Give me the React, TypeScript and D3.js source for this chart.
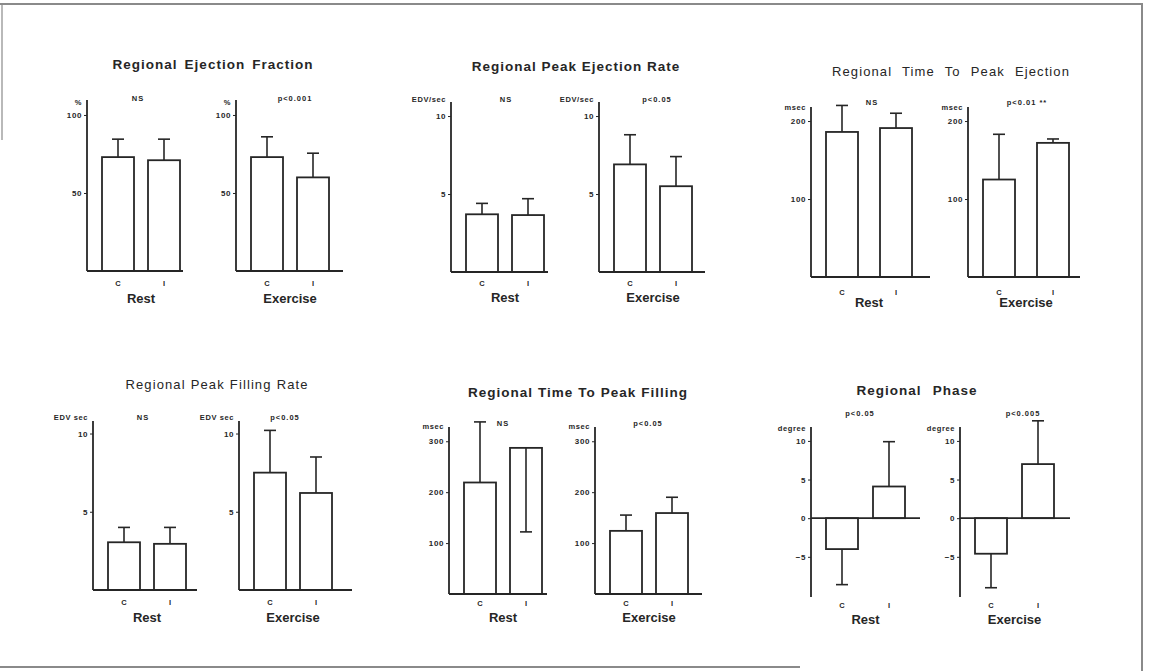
import { useEffect, useRef } from "react"
import * as d3 from "d3"

// ---- data ----
const panelTitles = [
  "Regional Ejection Fraction",
  "Regional Peak Ejection Rate",
  "Regional Time To Peak Ejection",
  "Regional Peak Filling Rate",
  "Regional Time To Peak Filling",
  "Regional Phase",
]
const conditions = ["Rest", "Exercise"]
const groups = ["C", "I"]
const unitLabels = ["%", "EDV/sec", "msec", "EDV sec", "msec", "degree"]
const pLabels = [
  ["NS", "p<0.001"],
  ["NS", "p<0.05"],
  ["NS", "p<0.01 **"],
  ["NS", "p<0.05"],
  ["NS", "p<0.05"],
  ["p<0.05", "p<0.005"],
]
const yTicks = [
  [50, 100],
  [5, 10],
  [100, 200],
  [5, 10],
  [100, 200, 300],
  [-5, 0, 5, 10],
]
const yDomains = [
  [0, 109.6],
  [0, 10.9],
  [0, 218],
  [0, 10.8],
  [0, 328],
  [-10.2, 11.8],
]
// [panel][condition][group]
const means = [
  [[73, 71], [73, 60]],
  [[3.7, 3.65], [6.9, 5.5]],
  [[186, 191], [125, 172]],
  [[3.05, 2.95], [7.5, 6.2]],
  [[219, 287], [124, 159]],
  [[-4.0, 4.1], [-4.6, 7.0]],
]
const sds = [
  [[11.5, 13.5], [13, 15.5]],
  [[0.7, 1.05], [1.9, 1.9]],
  [[34, 19], [58, 5]],
  [[0.95, 1.05], [2.7, 2.3]],
  [[119, 165], [31, 31]],
  [[4.6, 5.8], [4.4, 5.6]],
]
// 1 = error bar drawn up, -1 = drawn down
const errDirs = [
  [[1, 1], [1, 1]],
  [[1, 1], [1, 1]],
  [[1, 1], [1, 1]],
  [[1, 1], [1, 1]],
  [[1, -1], [1, 1]],
  [[-1, 1], [-1, 1]],
]

// ---- page layout (pixels) ----
const layout = [
  { tx: 213, ty: 69, tw: 201, bold: true, axisX: [87, 236], top: 100, bottom: 271, len: [96, 107], gap: 14, pX: [51, 59], pY: 100.5, uY: 105, catY: 285.5, condY: 302.5 },
  { tx: 576, ty: 71, tw: 208, bold: true, axisX: [451, 599], top: 102, bottom: 272, len: [97, 106], gap: 14, pX: [55, 58], pY: 101.5, uY: 101.5, catY: 285.5, condY: 301.5 },
  { tx: 951, ty: 76, tw: 238, bold: false, axisX: [811, 968], top: 107, bottom: 277, len: [119, 112], gap: 22, pX: [61, 59], pY: 105, uY: 109.5, catY: 294.5, condY: 307 },
  { tx: 217, ty: 389, tw: 183, bold: false, axisX: [93, 239], top: 421, bottom: 590, len: [104, 113], gap: 14, pX: [50, 46], pY: 419.5, uY: 419.5, catY: 604.5, condY: 621.5 },
  { tx: 578, ty: 397, tw: 220, bold: true, axisX: [449, 595], top: 427, bottom: 594, len: [98, 107], gap: 14, pX: [54, 53], pY: 425.5, uY: 428.5, catY: 605.5, condY: 621.5 },
  { tx: 917, ty: 395, tw: 121, bold: true, axisX: [811, 960], top: 427, bottom: 597, len: [109, 110], gap: 15, pX: [49, 63], pY: 415.5, uY: 430.5, catY: 607.5, condY: 623.5 },
]

const INK = "#262626"
const FONT = "'Liberation Sans', Arial, sans-serif"
const BAR_W = 32

export default function App() {
  const svgRef = useRef<SVGSVGElement>(null)

  useEffect(() => {
    if (!svgRef.current) return
    const svg = d3.select(svgRef.current)
    svg.selectAll("*").remove()

    svg.append("rect").attr("width", 1150).attr("height", 671).attr("fill", "#fff")

    // scanned page frame
    const frame = svg.append("g").attr("stroke", "#8a8a8a").attr("stroke-width", 2).attr("fill", "none")
    frame.append("line").attr("x1", 0).attr("x2", 1143).attr("y1", 4).attr("y2", 4)
    frame.append("line").attr("x1", 1142).attr("x2", 1142).attr("y1", 4).attr("y2", 671)
    frame.append("line").attr("x1", 2).attr("x2", 2).attr("y1", 4).attr("y2", 140).attr("stroke-opacity", 0.6)
    frame.append("line").attr("x1", 0).attr("x2", 800).attr("y1", 667).attr("y2", 667)

    panelTitles.forEach((title, p) => {
      const L = layout[p]
      const g = svg.append("g").attr("font-family", FONT).attr("fill", INK)

      // title: letters slightly spaced, the rest of the width goes into the word gaps
      const t = g
        .append("text")
        .attr("x", L.tx)
        .attr("y", L.ty)
        .attr("text-anchor", "middle")
        .attr("font-size", L.bold ? 13.5 : 13)
        .attr("font-weight", L.bold ? "bold" : "normal")
        .attr("letter-spacing", L.bold ? 1 : 1.1)
        .text(title)
      const natural = (t.node() as SVGTextElement).getComputedTextLength()
      const spaces = title.split(" ").length - 1
      if (spaces > 0 && natural < L.tw) t.attr("word-spacing", (L.tw - natural) / spaces)

      const y = d3.scaleLinear().domain(yDomains[p]).range([L.bottom, L.top])

      conditions.forEach((cond, c) => {
        const ax = L.axisX[c]
        const x = d3
          .scaleBand()
          .domain(groups)
          .range([ax + 15, ax + 15 + 2 * BAR_W + L.gap])
          .paddingInner(L.gap / (BAR_W + L.gap))

        const sub = g.append("g")

        // y axis ticks + labels
        const yAxis = sub
          .append("g")
          .attr("transform", `translate(${ax},0)`)
          .call(d3.axisLeft(y).tickValues(yTicks[p]).tickSize(3).tickSizeOuter(0).tickPadding(2))
        yAxis.select(".domain").remove()
        yAxis.selectAll("line").attr("stroke", INK).attr("stroke-width", 1)
        yAxis
          .selectAll("text")
          .attr("font-family", FONT)
          .attr("font-size", 8)
          .attr("font-weight", "bold")
          .attr("letter-spacing", 0.6)
          .attr("fill", INK)

        // axis lines
        sub
          .append("line")
          .attr("x1", ax)
          .attr("x2", ax)
          .attr("y1", L.top)
          .attr("y2", L.bottom)
          .attr("stroke", INK)
          .attr("stroke-width", 1.8)
        sub
          .append("line")
          .attr("x1", ax)
          .attr("x2", ax + L.len[c])
          .attr("y1", y(0))
          .attr("y2", y(0))
          .attr("stroke", INK)
          .attr("stroke-width", 1.8)

        // bars with SD whiskers
        groups.forEach((grp, i) => {
          const m = means[p][c][i]
          const bx = x(grp) as number
          const cx = bx + x.bandwidth() / 2
          const yEnd = y(m + errDirs[p][c][i] * sds[p][c][i])
          sub
            .append("line")
            .attr("x1", cx)
            .attr("x2", cx)
            .attr("y1", y(m))
            .attr("y2", yEnd)
            .attr("stroke", INK)
            .attr("stroke-width", 1.6)
          sub
            .append("line")
            .attr("x1", cx - 6)
            .attr("x2", cx + 6)
            .attr("y1", yEnd)
            .attr("y2", yEnd)
            .attr("stroke", INK)
            .attr("stroke-width", 1.6)
          sub
            .append("rect")
            .attr("x", bx)
            .attr("y", Math.min(y(m), y(0)))
            .attr("width", x.bandwidth())
            .attr("height", Math.abs(y(m) - y(0)))
            .attr("fill", "none")
            .attr("stroke", INK)
            .attr("stroke-width", 1.8)

          sub
            .append("text")
            .attr("x", cx)
            .attr("y", L.catY)
            .attr("text-anchor", "middle")
            .attr("font-size", 7.5)
            .attr("font-weight", "bold")
            .text(grp)
        })

        const [r0, r1] = x.range()
        sub
          .append("text")
          .attr("x", (r0 + r1) / 2)
          .attr("y", L.condY)
          .attr("text-anchor", "middle")
          .attr("font-size", 13)
          .attr("font-weight", "bold")
          .text(cond)

        sub
          .append("text")
          .attr("x", ax - 5)
          .attr("y", L.uY)
          .attr("text-anchor", "end")
          .attr("font-size", 7.5)
          .attr("font-weight", "bold")
          .attr("letter-spacing", 0.6)
          .text(unitLabels[p])

        sub
          .append("text")
          .attr("x", ax + L.pX[c])
          .attr("y", L.pY)
          .attr("text-anchor", "middle")
          .attr("font-size", 7.5)
          .attr("font-weight", "bold")
          .attr("letter-spacing", 1)
          .text(pLabels[p][c])
      })
    })
  }, [])

  return (
    <svg
      ref={svgRef}
      width={1150}
      height={671}
      style={{ position: "absolute", left: 0, top: 0, display: "block" }}
    ></svg>
  )
}
